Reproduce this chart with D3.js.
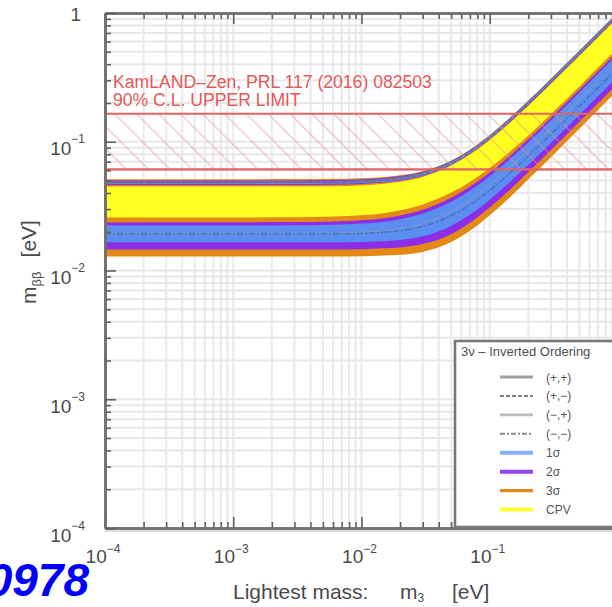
<!DOCTYPE html>
<html>
<head>
<meta charset="UTF-8">
<script src="https://d3js.org/d3.v7.min.js"></script>
<style>
body { margin: 0; background: #fff; }
svg { display: block; font-family: "Liberation Sans", Arial, sans-serif; }
</style>
</head>
<body>
<script>
// lightest mass m3 [eV] (sample points)
var m3Vals = [1e-4, 1e-3, 3e-3, 6e-3, 1e-2, 1.5e-2, 2e-2, 3e-2, 5e-2, 7e-2, 0.1, 0.15, 0.2, 0.3, 0.5, 1];

// best-fit m_bb [eV] for the four CP-conserving cases
var ppVals = [0.04825, 0.04828, 0.04840, 0.04873, 0.04945, 0.05075, 0.05250, 0.05709, 0.06978, 0.08527, 0.11123, 0.15767, 0.20578, 0.30382, 0.5022, 1.0007];
var pmVals = [0.04825, 0.04824, 0.04827, 0.04847, 0.04901, 0.05011, 0.05164, 0.05579, 0.06762, 0.08225, 0.10691, 0.15119, 0.19714, 0.29086, 0.4806, 0.9575];
var mpVals = [0.01925, 0.01928, 0.01936, 0.01953, 0.01987, 0.02047, 0.02124, 0.02327, 0.02876, 0.03531, 0.04627, 0.06583, 0.08598, 0.12718, 0.2102, 0.4191];
var mmVals = [0.01925, 0.01924, 0.01923, 0.01927, 0.01943, 0.01983, 0.02038, 0.02197, 0.0266, 0.03229, 0.04195, 0.05935, 0.07734, 0.11422, 0.1886, 0.3759];

// upper band (+,+)/(+,-) edges
var up3Hi = [0.05115, 0.05118, 0.0513, 0.05156, 0.05217, 0.05329, 0.05486, 0.05909, 0.07118, 0.08612, 0.11179, 0.1585, 0.2068, 0.3053, 0.5047, 1.0057];
var up3Lo = [0.04487, 0.04486, 0.04489, 0.04517, 0.04582, 0.0471, 0.0488, 0.05328, 0.06525, 0.07937, 0.10317, 0.1459, 0.19024, 0.28068, 0.46378, 0.92399];
var up2Hi = [0.04994, 0.04997, 0.05009, 0.05042, 0.05112, 0.05237, 0.05408, 0.05857, 0.0709, 0.08604, 0.11156, 0.15814, 0.2064, 0.30473, 0.5037, 1.0037];
var up2Lo = [0.04608, 0.04607, 0.0461, 0.04634, 0.04695, 0.04821, 0.04983, 0.05423, 0.06593, 0.0806, 0.10499, 0.14817, 0.1932, 0.28504, 0.47099, 0.93835];
var up1Hi = [0.04897, 0.049, 0.04913, 0.04945, 0.05016, 0.05143, 0.05313, 0.05766, 0.07013, 0.08544, 0.11123, 0.15767, 0.20578, 0.30382, 0.5022, 1.0007];
var up1Lo = [0.04704, 0.04703, 0.04706, 0.04726, 0.04783, 0.04896, 0.05051, 0.05467, 0.0666, 0.08143, 0.10627, 0.15043, 0.19615, 0.2894, 0.4782, 0.9527];

// lower band (-,+)/(-,-) edges
var lo3Hi = [0.0258, 0.02584, 0.02594, 0.02627, 0.02682, 0.02784, 0.02931, 0.03258, 0.04026, 0.04873, 0.06246, 0.0869, 0.11177, 0.16406, 0.26906, 0.53645];
var lo3Lo = [0.01286, 0.01285, 0.01285, 0.01285, 0.01292, 0.01309, 0.01325, 0.01395, 0.01663, 0.02034, 0.02685, 0.03858, 0.05104, 0.07596, 0.12636, 0.25185];
var lo2Hi = [0.02364, 0.02368, 0.02377, 0.02402, 0.02454, 0.02549, 0.02676, 0.02967, 0.03681, 0.04467, 0.05761, 0.08064, 0.10447, 0.15389, 0.25329, 0.50502];
var lo2Lo = [0.01457, 0.01456, 0.01456, 0.01457, 0.01465, 0.01487, 0.01512, 0.01604, 0.01915, 0.02341, 0.03083, 0.04422, 0.05816, 0.08635, 0.14296, 0.28493];
var lo1Hi = [0.02233, 0.02236, 0.02246, 0.02269, 0.02315, 0.02395, 0.02506, 0.02769, 0.03422, 0.04167, 0.05414, 0.07636, 0.09931, 0.14626, 0.24173, 0.48197];
var lo1Lo = [0.01656, 0.01655, 0.01654, 0.01655, 0.01665, 0.01691, 0.01726, 0.01845, 0.02221, 0.02706, 0.03545, 0.05057, 0.0662, 0.098, 0.1622, 0.32327];

// KamLAND-Zen 90% C.L. upper limit range [eV]
var kamlandRange = [0.061, 0.165];
var kamlandText = ["KamLAND\u2013Zen, PRL 117 (2016) 082503", "90% C.L. UPPER LIMIT"];

var xMajors = [1e-4, 1e-3, 1e-2, 1e-1];
var yMajors = [1e-4, 1e-3, 1e-2, 1e-1, 1];
var xTickLabels = ["\u22124", "\u22123", "\u22122", "\u22121"];
var yTickLabels = ["\u22124", "\u22123", "\u22122", "\u22121", ""];

var legendTitle = "3\u03bd \u2013 Inverted Ordering";
var legendLabels = ["(+,+)", "(+,\u2212)", "(\u2212,+)", "(\u2212,\u2212)", "1\u03c3", "2\u03c3", "3\u03c3", "CPV"];

var width = 612, height = 607;
var plot = { left: 105, right: 618, top: 13, bottom: 528 };

var x = d3.scaleLog().domain([1e-4, 1]).range([plot.left, plot.right]);
var y = d3.scaleLog().domain([1e-4, 1]).range([plot.bottom, plot.top]);

var svg = d3.select("body").append("svg")
    .attr("width", width)
    .attr("height", height);

var defs = svg.append("defs");
defs.append("clipPath").attr("id", "clip")
    .append("rect")
    .attr("x", plot.left).attr("y", plot.top)
    .attr("width", plot.right - plot.left).attr("height", plot.bottom - plot.top);

// hatch for the KamLAND band
var pat = defs.append("pattern")
    .attr("id", "hatch")
    .attr("patternUnits", "userSpaceOnUse")
    .attr("width", 15.5).attr("height", 15.5)
    .attr("patternTransform", "rotate(-45)");
pat.append("line")
    .attr("x1", 0).attr("y1", 0).attr("x2", 0).attr("y2", 15.5)
    .attr("stroke", "#e88a8a").attr("stroke-width", 2.4).attr("stroke-opacity", 0.55);

// grid
var grid = svg.append("g").attr("clip-path", "url(#clip)");
grid.selectAll(".vg").data(x.ticks()).enter().append("line")
    .attr("x1", function (d) { return x(d); }).attr("x2", function (d) { return x(d); })
    .attr("y1", plot.top).attr("y2", plot.bottom)
    .attr("stroke", "#eaeaea").attr("stroke-width", 2);
grid.selectAll(".hg").data(y.ticks()).enter().append("line")
    .attr("y1", function (d) { return y(d); }).attr("y2", function (d) { return y(d); })
    .attr("x1", plot.left).attr("x2", plot.right)
    .attr("stroke", "#e8e8e8").attr("stroke-width", 2);

var g = svg.append("g").attr("clip-path", "url(#clip)");

function band(lo, hi) {
    return d3.area()
        .x(function (d, i) { return x(m3Vals[i]); })
        .y0(function (d, i) { return y(lo[i]); })
        .y1(function (d, i) { return y(hi[i]); })
        .curve(d3.curveMonotoneX)(m3Vals);
}
var line = d3.line()
    .x(function (d, i) { return x(m3Vals[i]); })
    .y(function (d) { return y(d); })
    .curve(d3.curveMonotoneX);

var colYellow = "#ffff22", colOrange = "#e48a14", colPurple = "#8c2ee8", colBlue = "#5a8ef0";

// CPV region
g.append("path").attr("d", band(mmVals, ppVals)).attr("fill", colYellow);

// sigma bands
[[up3Lo, up3Hi, colOrange], [lo3Lo, lo3Hi, colOrange],
 [up2Lo, up2Hi, colPurple], [lo2Lo, lo2Hi, colPurple],
 [up1Lo, up1Hi, colBlue], [lo1Lo, lo1Hi, colBlue]].forEach(function (b) {
    g.append("path").attr("d", band(b[0], b[1])).attr("fill", b[2]);
});

// CP-conserving best-fit lines
var lineStyles = [
    { v: ppVals, c: "#7a6a5a", w: 1.4, dash: null },
    { v: pmVals, c: "#6a6a6a", w: 1.2, dash: "4,3" },
    { v: mpVals, c: "#8a9ab8", w: 1.2, dash: null },
    { v: mmVals, c: "#4a5a90", w: 1.2, dash: "6,2,2,2" }
];
lineStyles.forEach(function (s) {
    g.append("path").attr("d", line(s.v))
        .attr("fill", "none").attr("stroke", s.c).attr("stroke-width", s.w)
        .attr("stroke-opacity", 0.7)
        .attr("stroke-dasharray", s.dash);
});

// KamLAND-Zen band
g.append("rect")
    .attr("x", plot.left).attr("width", plot.right - plot.left)
    .attr("y", y(kamlandRange[1])).attr("height", y(kamlandRange[0]) - y(kamlandRange[1]))
    .attr("fill", "url(#hatch)");
kamlandRange.forEach(function (v) {
    g.append("line")
        .attr("x1", plot.left).attr("x2", plot.right)
        .attr("y1", y(v)).attr("y2", y(v))
        .attr("stroke", "#e06464").attr("stroke-width", 2.2);
});
g.selectAll(".kz").data(kamlandText).enter().append("text")
    .attr("x", 113)
    .attr("y", function (d, i) { return 87.5 + i * 18; })
    .attr("fill", "#e35a5a")
    .style("font-size", "17.6px")
    .text(function (d) { return d; });

// axes (ticks point inward)
function frame(axis, tr, size, vals) {
    var a = svg.append("g").attr("transform", tr)
        .call(axis.tickValues(vals).tickSizeInner(size).tickSizeOuter(0).tickFormat(""));
    a.select(".domain").attr("stroke", "#707070").attr("stroke-width", 2.6);
    a.selectAll(".tick line").attr("stroke", "#606060").attr("stroke-width", 1.6);
    return a;
}
var xMinor = x.ticks().filter(function (d) { return xMajors.indexOf(d) < 0; });
var yMinor = y.ticks().filter(function (d) { return yMajors.indexOf(d) < 0; });
frame(d3.axisBottom(x), "translate(0," + plot.bottom + ")", -6, xMinor);
frame(d3.axisBottom(x), "translate(0," + plot.bottom + ")", -11, xMajors);
frame(d3.axisTop(x), "translate(0," + plot.top + ")", -6, xMinor);
frame(d3.axisTop(x), "translate(0," + plot.top + ")", -11, xMajors);
frame(d3.axisLeft(y), "translate(" + plot.left + ",0)", -6, yMinor);
frame(d3.axisLeft(y), "translate(" + plot.left + ",0)", -11, yMajors);

// light shadow under the bottom axis
svg.append("line")
    .attr("x1", plot.left).attr("x2", width)
    .attr("y1", plot.bottom + 3).attr("y2", plot.bottom + 3)
    .attr("stroke", "#dcdcdc").attr("stroke-width", 2);

// tick labels
var xl = svg.selectAll(".xl").data(xMajors).enter().append("text")
    .attr("x", function (d) { return x(d) - 2; })
    .attr("y", 563)
    .attr("text-anchor", "middle")
    .attr("fill", "#4a4a4a")
    .style("font-size", "19px");
xl.append("tspan").text("10");
xl.append("tspan").attr("dy", -10).style("font-size", "12px")
    .text(function (d, i) { return xTickLabels[i]; });

var yl = svg.selectAll(".yl").data(yMajors).enter().append("text")
    .attr("x", function (d, i) { return yTickLabels[i] ? 85 : 81; })
    .attr("y", function (d, i) { return y(d) + (yTickLabels[i] ? 13.5 : 8); })
    .attr("text-anchor", "end")
    .attr("fill", "#4a4a4a")
    .style("font-size", "19px");
yl.append("tspan").text(function (d, i) { return yTickLabels[i] ? "10" : "1"; });
yl.append("tspan").attr("dy", -12).style("font-size", "12px")
    .text(function (d, i) { return yTickLabels[i]; });

// axis titles
var xt = svg.append("text").attr("y", 599).attr("fill", "#4a4a4a").style("font-size", "21px");
xt.append("tspan").attr("x", 233).text("Lightest mass:");
xt.append("tspan").attr("x", 400).text("m");
xt.append("tspan").attr("dy", 3).style("font-size", "12px").text("3");
xt.append("tspan").attr("x", 452).attr("dy", -3).text("[eV]");

var yt = svg.append("text")
    .attr("transform", "translate(36,262) rotate(-90)")
    .attr("text-anchor", "middle")
    .attr("fill", "#4a4a4a")
    .style("font-size", "21px");
yt.append("tspan").text("m");
yt.append("tspan").attr("dy", 5).style("font-size", "13px").text("\u03b2\u03b2");
yt.append("tspan").attr("dy", -5).attr("dx", 14).text("[eV]");

// legend
var lg = svg.append("g");
lg.append("rect")
    .attr("x", 455).attr("y", 341).attr("width", 170).attr("height", 186)
    .attr("fill", "#fff").attr("stroke", "#777").attr("stroke-width", 2.6);
lg.append("text")
    .attr("x", 461).attr("y", 356)
    .attr("fill", "#505050")
    .style("font-size", "13px")
    .text(legendTitle);
var legendStyles = [
    { c: "#a0a0a0", w: 3.2, dash: null },
    { c: "#808080", w: 2, dash: "4,2" },
    { c: "#bcbcbc", w: 2.6, dash: null },
    { c: "#8a8a8a", w: 2, dash: "5,2,2,2" },
    { c: "#88aefc", w: 4, dash: null },
    { c: "#9444f0", w: 4, dash: null },
    { c: "#e48a14", w: 3.2, dash: null },
    { c: "#ffff30", w: 4, dash: null }
];
var rowY = d3.scaleLinear().domain([0, 7]).range([377, 509.5]);
legendLabels.forEach(function (lab, i) {
    var s = legendStyles[i];
    lg.append("line")
        .attr("x1", 500).attr("x2", 533)
        .attr("y1", rowY(i)).attr("y2", rowY(i))
        .attr("stroke", s.c).attr("stroke-width", s.w)
        .attr("stroke-dasharray", s.dash);
    lg.append("text")
        .attr("x", 546).attr("y", rowY(i) + 4.5)
        .attr("fill", "#555")
        .style("font-size", "12px")
        .text(lab);
});

// identifier at bottom left (cut at the left edge as in the source)
svg.append("text")
    .attr("x", 89).attr("y", 596)
    .attr("text-anchor", "end")
    .attr("fill", "#0000ff")
    .style("font-size", "46px")
    .style("font-weight", "bold")
    .style("font-style", "italic")
    .text("0978");
</script>
</body>
</html>
